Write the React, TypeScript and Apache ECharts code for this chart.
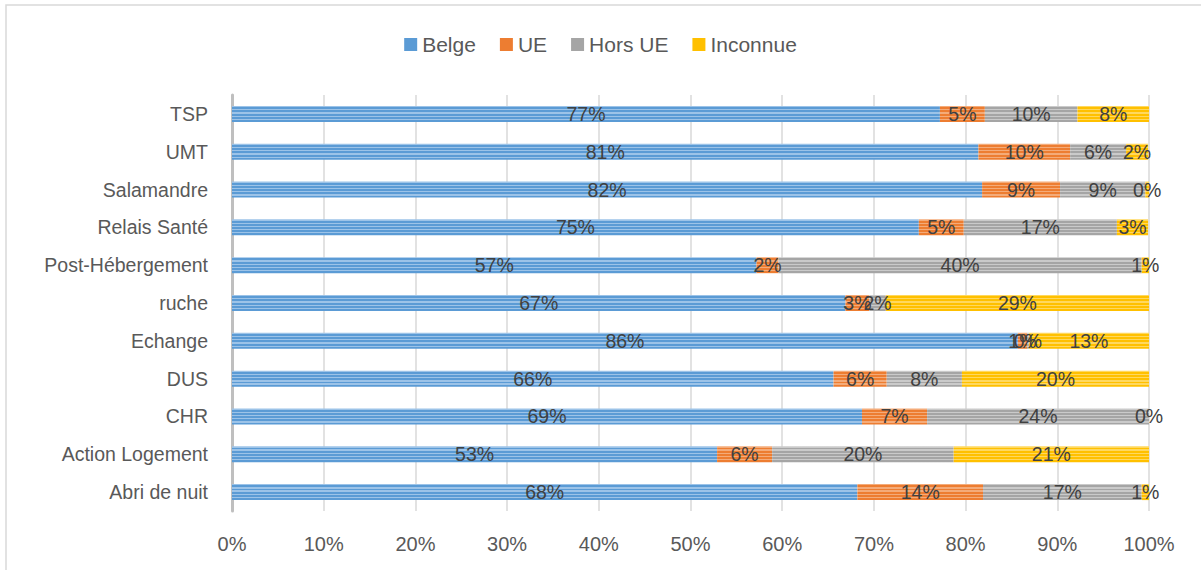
import React, { useEffect, useRef } from "react";
import * as echarts from "echarts";

const categories = ["TSP", "UMT", "Salamandre", "Relais Santé", "Post-Hébergement", "ruche", "Echange", "DUS", "CHR", "Action Logement", "Abri de nuit"];
const belge = [77.2, 81.4, 81.8, 74.9, 57.2, 66.9, 85.7, 65.6, 68.7, 52.9, 68.2];
const ue = [4.9, 10.0, 8.5, 4.9, 2.4, 2.6, 1.0, 5.8, 7.1, 6.0, 13.7];
const horsUE = [10.1, 6.1, 9.3, 16.7, 39.6, 1.8, 0.2, 8.2, 24.2, 19.8, 17.3];
const inconnue = [7.8, 2.4, 0.4, 3.4, 0.8, 28.7, 13.1, 20.4, 0.0, 21.3, 0.8];
const seriesNames = ["Belge", "UE", "Hors UE", "Inconnue"];
const xTicks = [0, 10, 20, 30, 40, 50, 60, 70, 80, 90, 100];

const FONT = "Liberation Sans, Arial, sans-serif";

function stripes(base: string, light: string) {
  const stops: any[] = [];
  const n = 5;
  for (let i = 0; i < n; i++) {
    const a = i / n;
    const b = (i + 0.4) / n;
    const c = (i + 1) / n;
    stops.push({ offset: a, color: light });
    stops.push({ offset: b, color: light });
    stops.push({ offset: b, color: base });
    stops.push({ offset: c, color: base });
  }
  return { type: "linear", x: 0, y: 0, x2: 0, y2: 1, colorStops: stops };
}

const palette = [
  { base: "#5B9BD5", light: "#9CC3E8" },
  { base: "#ED7D31", light: "#F4AB79" },
  { base: "#A5A5A5", light: "#CACACA" },
  { base: "#FFC000", light: "#FFD85E" },
];

export default function App() {
  const ref = useRef<HTMLDivElement>(null);
  useEffect(() => {
    if (!ref.current) return;
    const chart = echarts.init(ref.current, null, { renderer: "svg" });
    const data = [belge, ue, horsUE, inconnue];
    chart.setOption({
      animation: false,
      textStyle: { fontFamily: FONT },
      graphic: [
        {
          type: "rect",
          shape: { x: 6, y: 5, width: 1250, height: 620 },
          style: { fill: "none", stroke: "#D9D9D9", lineWidth: 1.5 },
          silent: true,
          z: -1,
        },
      ],
      legend: {
        top: 29,
        left: "center",
        itemWidth: 13,
        itemHeight: 13,
        itemGap: 24,
        icon: "rect",
        textStyle: { fontSize: 21, color: "#595959", fontFamily: FONT },
        data: seriesNames.map((n, i) => ({ name: n, itemStyle: { color: palette[i].base } })),
      },
      grid: { left: 232, right: 52, top: 95, bottom: 59, containLabel: false },
      xAxis: {
        type: "value",
        min: 0,
        max: 100,
        interval: 10,
        axisLine: { show: false },
        axisTick: { show: false },
        splitLine: { show: true, lineStyle: { color: "#D9D9D9", width: 1.5 } },
        axisLabel: {
          margin: 23,
          fontSize: 20,
          color: "#595959",
          fontFamily: FONT,
          formatter: (v: number) => (xTicks.includes(v) ? v + "%" : ""),
        },
      },
      yAxis: {
        type: "category",
        inverse: true,
        data: categories,
        axisLine: { show: true, lineStyle: { color: "#BFBFBF", width: 3 } },
        axisTick: { show: false },
        axisLabel: { margin: 24, fontSize: 19.5, color: "#595959", fontFamily: FONT },
      },
      series: seriesNames.map((name, i) => ({
        name,
        type: "bar",
        stack: "total",
        barWidth: 16,
        data: data[i],
        itemStyle: { color: stripes(palette[i].base, palette[i].light) },
        label: {
          show: true,
          position: "inside",
          fontSize: 19.5,
          color: "#404040",
          fontFamily: FONT,
          formatter: (p: any) => Math.round(p.value) + "%",
        },
      })),
    });
    return () => chart.dispose();
  }, []);
  return <div ref={ref} style={{ position: "absolute", left: 0, top: 0, width: 1201, height: 570 }} />;
}
